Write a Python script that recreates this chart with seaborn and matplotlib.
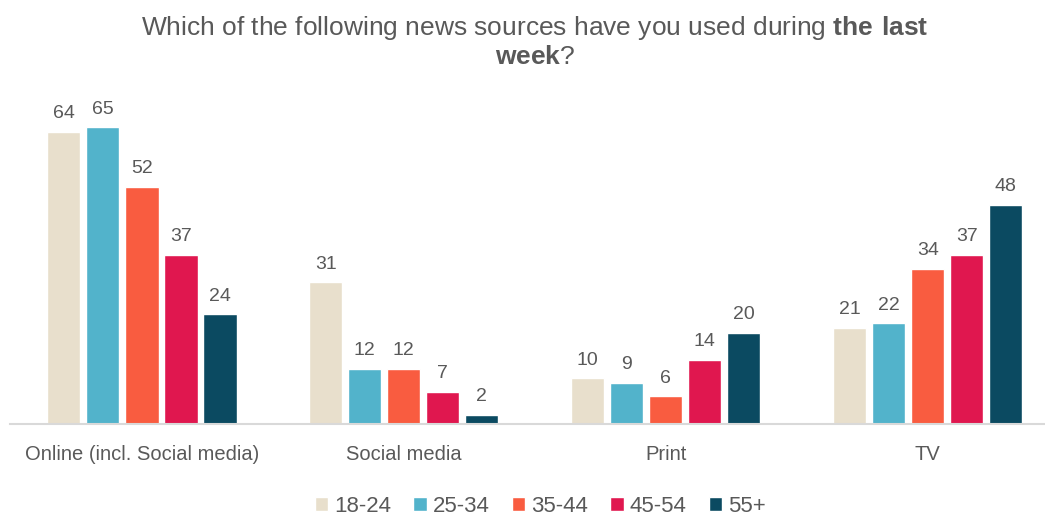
import pandas as pd
import numpy as np
import matplotlib.pyplot as plt
import seaborn as sns

# data
sources = ['Online (incl. Social media)', 'Social media', 'Print', 'TV']
ages = ['18-24', '25-34', '35-44', '45-54', '55+']
v_18_24 = [64, 31, 10, 21]
v_25_34 = [65, 12, 9, 22]
v_35_44 = [52, 12, 6, 34]
v_45_54 = [37, 7, 14, 37]
v_55_plus = [24, 2, 20, 48]
colors = ['#E8DFCC', '#52B3CB', '#F95C40', '#E0174F', '#0B4A61']

vals = [v_18_24, v_25_34, v_35_44, v_45_54, v_55_plus]
rows = []
for a, v in zip(ages, vals):
    for s, x in zip(sources, v):
        rows.append({'source': s, 'age': a, 'pct': x})
df = pd.DataFrame(rows)

sns.set_theme(style='white')
plt.rcParams['font.family'] = ['Liberation Sans', 'DejaVu Sans']
plt.rcParams['mathtext.fontset'] = 'custom'
plt.rcParams['mathtext.rm'] = 'Liberation Sans'
plt.rcParams['mathtext.bf'] = 'Liberation Sans:bold'
grey = '#595959'

fig = plt.figure(figsize=(10.45, 5.15), dpi=100)
ax = fig.add_axes([0.01, 0.177, 0.99, 0.62])
sns.barplot(data=df, x='source', y='pct', hue='age', palette=colors, saturation=1,
            width=0.745, gap=0.15, ax=ax, legend=True)
for c in ax.containers:
    ax.bar_label(c, fmt='%d', padding=7, fontsize=14, color=grey)

ax.set_ylim(0, 70)
ax.set_xlim(-0.502, 3.448)
ax.set_xlabel('')
ax.set_ylabel('')
ax.set_yticks([])
ax.tick_params(axis='x', length=0, pad=15, labelsize=14.5, labelcolor=grey)
for sp in ['top', 'right', 'left']:
    ax.spines[sp].set_visible(False)
ax.spines['bottom'].set_color('#D9D9D9')
ax.spines['bottom'].set_linewidth(1.5)

ax.legend(loc='center', bbox_to_anchor=(0.517, 0.017), bbox_transform=fig.transFigure,
          ncol=5, frameon=False, fontsize=16, labelcolor=grey,
          handlelength=0.6, handleheight=0.6, handletextpad=0.27, columnspacing=1.0,
          borderaxespad=0, borderpad=0)

fig.text(0.512, 0.972, r'Which of the following news sources have you used during $\bf{the\ last}$',
         ha='center', va='top', fontsize=19, color=grey)
fig.text(0.512, 0.912, r'$\bf{week}$?', ha='center', va='top', fontsize=19, color=grey)

plt.savefig('out.png', dpi=100)
